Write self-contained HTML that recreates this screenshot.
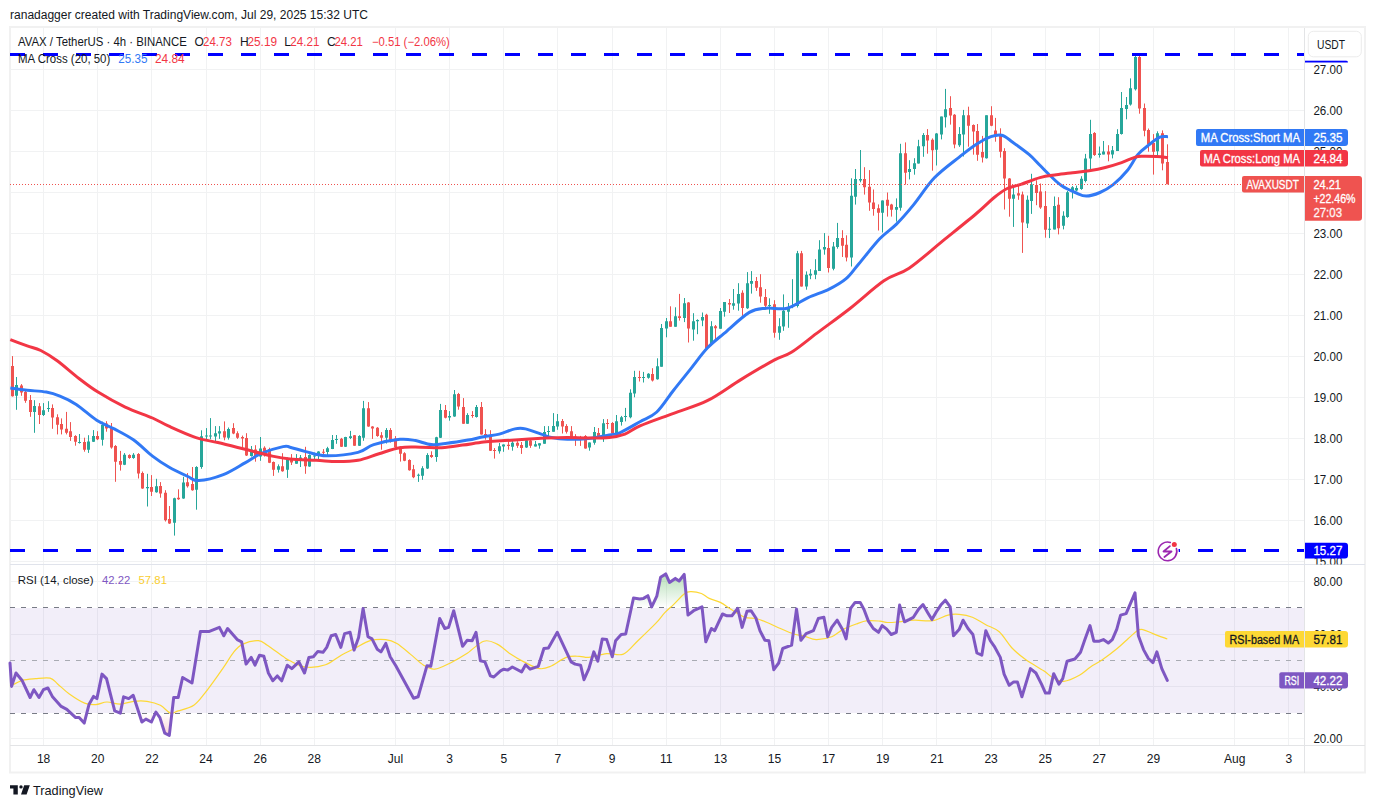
<!DOCTYPE html><html><head><meta charset="utf-8"><style>html,body{margin:0;padding:0;background:#fff;overflow:hidden}svg{display:block}text{font-family:"Liberation Sans",sans-serif;}</style></head><body>
<svg width="1376" height="808" viewBox="0 0 1376 808">
<defs>
<linearGradient id="gup" x1="0" y1="570" x2="0" y2="607.4" gradientUnits="userSpaceOnUse"><stop offset="0" stop-color="#4caf50" stop-opacity="0.45"/><stop offset="1" stop-color="#4caf50" stop-opacity="0"/></linearGradient>
<linearGradient id="gdn" x1="0" y1="713" x2="0" y2="738" gradientUnits="userSpaceOnUse"><stop offset="0" stop-color="#f23645" stop-opacity="0"/><stop offset="1" stop-color="#f23645" stop-opacity="0.25"/></linearGradient>
<clipPath id="cup"><rect x="10" y="565" width="1294" height="42.4"/></clipPath>
<clipPath id="cmain"><rect x="1305" y="28" width="60" height="536.5"/></clipPath>
<clipPath id="crsi"><rect x="1305" y="565" width="60" height="180"/></clipPath>
<clipPath id="cdn"><rect x="10" y="713" width="1294" height="32"/></clipPath>
</defs>
<rect width="1376" height="808" fill="#fff"/>
<text x="10" y="18.8" font-size="12.3" fill="#131722" textLength="358" lengthAdjust="spacingAndGlyphs">ranadagger created with TradingView.com, Jul 29, 2025 15:32 UTC</text>
<rect x="10" y="27" width="1355" height="745.5" fill="none" stroke="#f1f1f1" stroke-width="2"/>
<path d="M43.5 28V745 M97.5 28V745 M151.5 28V745 M206.5 28V745 M260.5 28V745 M314.5 28V745 M395.5 28V745 M449.5 28V745 M503.5 28V745 M557.5 28V745 M612.5 28V745 M666.5 28V745 M720.5 28V745 M774.5 28V745 M828.5 28V745 M882.5 28V745 M936.5 28V745 M991.5 28V745 M1045.5 28V745 M1099.5 28V745 M1153.5 28V745 M1234.5 28V745 M1288.5 28V745 M10 561.5H1304 M10 520.5H1304 M10 479.5H1304 M10 438.5H1304 M10 397.5H1304 M10 356.5H1304 M10 315.5H1304 M10 274.5H1304 M10 233.5H1304 M10 192.5H1304 M10 151.5H1304 M10 110.5H1304 M10 69.5H1304 M10 581.5H1304 M10 634.5H1304 M10 686.5H1304 M10 738.5H1304" stroke="#f1f2f3" stroke-width="1" fill="none"/>
<rect x="10" y="608" width="1294" height="105" fill="#7e57c2" fill-opacity="0.1"/>
<path d="M10 607.5H1304" stroke="#787b86" stroke-width="1" stroke-dasharray="5 6" fill="none"/>
<path d="M10 660.5H1304" stroke="#a9abb3" stroke-width="1" stroke-dasharray="5 6" fill="none"/>
<path d="M10 713.5H1304" stroke="#787b86" stroke-width="1" stroke-dasharray="5 6" fill="none"/>
<path d="M1304.5 28V773" stroke="#e3e4e6" stroke-width="1"/>
<path d="M10 564.5H1365" stroke="#e0e3eb" stroke-width="1"/>
<path d="M10 745.5H1365" stroke="#e3e4e6" stroke-width="1"/>
<path d="M16.5 377.0V409.8 M34.5 400.2V432.8 M43.5 403.1V416.0 M48.5 401.2V411.9 M79.5 434.0V443.6 M88.5 435.2V452.9 M93.5 430.1V442.0 M102.5 421.7V445.6 M124.5 453.1V465.1 M133.5 453.1V458.8 M147.5 473.8V506.5 M156.5 478.8V492.7 M174.5 497.7V535.6 M183.5 476.8V498.8 M196.5 466.2V509.7 M201.5 430.3V468.8 M206.5 428.1V439.2 M210.5 418.1V439.2 M215.5 426.1V442.3 M219.5 426.1V438.9 M228.5 427.5V439.6 M251.5 446.0V456.6 M260.5 437.0V460.8 M278.5 464.4V472.6 M287.5 457.4V477.9 M296.5 454.1V463.8 M300.5 455.0V467.0 M309.5 454.4V466.8 M314.5 452.6V459.7 M318.5 451.2V459.1 M327.5 446.8V456.8 M332.5 435.0V449.1 M336.5 435.0V443.8 M345.5 436.8V447.0 M350.5 430.9V439.1 M359.5 435.2V446.0 M363.5 400.9V440.8 M386.5 428.1V443.5 M418.5 473.6V481.9 M422.5 466.2V479.8 M427.5 453.2V469.0 M436.5 436.8V461.8 M440.5 403.9V438.0 M449.5 411.1V420.7 M454.5 390.0V416.8 M467.5 413.2V423.9 M476.5 405.0V417.6 M499.5 443.0V453.6 M503.5 444.4V451.8 M512.5 439.9V450.7 M526.5 438.6V447.9 M535.5 441.0V446.5 M539.5 443.3V448.7 M544.5 426.1V443.7 M548.5 426.1V438.6 M553.5 413.1V431.7 M557.5 414.0V429.8 M589.5 442.4V450.7 M594.5 427.0V444.7 M603.5 419.1V441.9 M616.5 415.0V434.0 M621.5 415.9V425.6 M625.5 407.9V421.4 M630.5 389.3V418.3 M634.5 370.8V397.3 M643.5 371.9V382.5 M648.5 373.2V378.7 M657.5 358.3V379.7 M661.5 324.0V366.7 M666.5 318.0V337.3 M675.5 307.3V326.8 M684.5 298.0V322.1 M693.5 313.2V340.7 M697.5 319.3V334.2 M702.5 312.5V326.2 M711.5 321.2V345.4 M720.5 308.0V328.7 M724.5 302.1V316.7 M733.5 289.0V309.7 M738.5 283.2V310.7 M747.5 272.1V308.9 M751.5 271.1V293.6 M769.5 298.3V313.8 M779.5 318.2V339.8 M783.5 294.4V330.8 M788.5 303.0V327.8 M792.5 279.2V308.2 M797.5 250.9V307.5 M806.5 271.4V289.7 M810.5 269.2V279.2 M815.5 259.2V279.2 M819.5 240.2V271.0 M824.5 233.1V254.7 M833.5 242.0V270.3 M837.5 222.9V248.7 M851.5 178.3V266.5 M855.5 169.0V204.6 M860.5 150.0V182.3 M882.5 200.4V232.5 M896.5 198.4V221.6 M900.5 143.8V210.7 M909.5 160.2V179.4 M914.5 158.2V174.7 M918.5 139.8V163.6 M923.5 133.1V156.8 M936.5 133.1V165.5 M941.5 116.6V139.4 M945.5 88.9V127.5 M959.5 127.1V146.9 M963.5 109.9V156.5 M986.5 115.3V158.6 M1013.5 186.8V226.9 M1027.5 195.5V228.0 M1031.5 173.8V213.9 M1049.5 217.0V238.1 M1054.5 196.5V229.4 M1063.5 211.3V229.4 M1067.5 191.0V217.8 M1072.5 186.1V198.5 M1076.5 185.6V191.0 M1081.5 176.2V189.8 M1085.5 153.9V182.4 M1090.5 119.8V170.0 M1099.5 146.5V157.6 M1103.5 141.0V154.4 M1112.5 146.0V158.4 M1117.5 129.2V150.9 M1121.5 92.0V134.6 M1126.5 97.0V119.3 M1130.5 78.4V105.6 M1135.5 55.2V90.5 M1157.5 131.3V157.3" stroke="#26a69a" stroke-width="1" fill="none"/>
<path d="M15 385.1h3v10.7h-3z M33 406.0h3v5.9h-3z M42 410.3h3v4.8h-3z M47 407.9h3v1.0h-3z M78 442.0h3v1.0h-3z M87 441.4h3v8.3h-3z M92 436.1h3v5.6h-3z M101 425.0h3v14.7h-3z M123 454.8h3v10.0h-3z M132 454.8h3v3.3h-3z M146 487.1h3v1.1h-3z M155 486.3h3v5.9h-3z M173 498.2h3v24.5h-3z M182 482.6h3v15.9h-3z M195 467.0h3v22.7h-3z M200 436.3h3v30.7h-3z M205 435.6h3v1.0h-3z M209 435.6h3v1.0h-3z M214 433.2h3v3.4h-3z M218 431.3h3v2.2h-3z M227 428.9h3v8.9h-3z M250 449.4h3v6.6h-3z M259 448.4h3v8.2h-3z M277 466.2h3v3.5h-3z M286 459.1h3v10.6h-3z M295 459.5h3v4.3h-3z M299 457.4h3v3.5h-3z M308 455.0h3v11.5h-3z M313 455.6h3v1.0h-3z M317 451.5h3v4.4h-3z M326 448.2h3v3.9h-3z M331 439.9h3v9.0h-3z M335 439.1h3v1.0h-3z M344 437.1h3v9.7h-3z M349 436.2h3v1.7h-3z M358 436.1h3v9.6h-3z M362 408.3h3v29.4h-3z M385 429.9h3v7.8h-3z M417 474.8h3v1.0h-3z M421 468.3h3v7.4h-3z M426 455.0h3v13.6h-3z M435 437.3h3v19.6h-3z M439 410.1h3v27.6h-3z M448 416.0h3v1.4h-3z M453 394.3h3v22.2h-3z M466 415.0h3v8.7h-3z M475 406.9h3v10.2h-3z M498 446.2h3v5.0h-3z M502 444.4h3v2.1h-3z M511 442.8h3v4.0h-3z M525 440.2h3v7.4h-3z M534 444.2h3v2.3h-3z M538 443.3h3v2.3h-3z M543 432.1h3v11.6h-3z M547 431.0h3v1.0h-3z M552 426.1h3v5.6h-3z M556 421.2h3v5.4h-3z M588 442.4h3v5.1h-3z M593 432.1h3v10.7h-3z M602 423.3h3v14.4h-3z M615 421.2h3v12.8h-3z M620 417.3h3v4.6h-3z M624 415.9h3v1.0h-3z M629 392.7h3v24.5h-3z M633 376.9h3v16.7h-3z M642 376.9h3v1.0h-3z M647 373.7h3v4.1h-3z M656 366.3h3v13.0h-3z M660 328.1h3v38.6h-3z M665 321.2h3v7.4h-3z M674 316.2h3v10.6h-3z M683 303.2h3v14.8h-3z M692 321.2h3v8.4h-3z M696 319.9h3v1.3h-3z M701 316.9h3v3.7h-3z M710 326.2h3v17.7h-3z M719 311.0h3v17.7h-3z M723 302.1h3v9.6h-3z M732 303.3h3v2.5h-3z M737 294.0h3v9.5h-3z M746 283.2h3v25.0h-3z M750 281.0h3v2.7h-3z M768 305.1h3v1.0h-3z M778 326.2h3v6.6h-3z M782 310.7h3v15.9h-3z M787 307.6h3v4.1h-3z M791 306.0h3v1.1h-3z M796 253.2h3v52.8h-3z M805 274.8h3v11.8h-3z M809 273.7h3v1.7h-3z M814 270.3h3v4.5h-3z M818 249.6h3v21.4h-3z M823 246.9h3v2.7h-3z M832 246.5h3v22.3h-3z M836 238.0h3v8.9h-3z M850 195.7h3v61.9h-3z M854 179.0h3v17.8h-3z M859 179.0h3v1.5h-3z M881 200.4h3v12.3h-3z M895 207.1h3v2.6h-3z M899 153.3h3v54.4h-3z M908 169.1h3v3.0h-3z M913 163.2h3v5.9h-3z M917 146.3h3v17.3h-3z M922 135.0h3v11.3h-3z M935 133.5h3v16.2h-3z M940 116.6h3v17.9h-3z M944 109.3h3v7.9h-3z M958 133.9h3v11.4h-3z M962 115.3h3v19.1h-3z M985 115.3h3v42.9h-3z M1012 194.4h3v4.3h-3z M1026 199.8h3v23.8h-3z M1030 184.6h3v16.3h-3z M1048 228.7h3v1.0h-3z M1053 205.9h3v23.5h-3z M1062 215.8h3v9.9h-3z M1066 192.3h3v24.7h-3z M1071 187.3h3v4.2h-3z M1075 188.1h3v2.4h-3z M1080 178.7h3v10.4h-3z M1084 158.4h3v22.7h-3z M1089 134.1h3v24.3h-3z M1098 153.4h3v1.7h-3z M1102 151.4h3v3.0h-3z M1111 150.2h3v4.2h-3z M1116 134.1h3v16.8h-3z M1120 108.1h3v26.0h-3z M1125 104.9h3v4.0h-3z M1129 88.3h3v16.1h-3z M1134 57.1h3v32.1h-3z M1156 133.2h3v18.0h-3z" fill="#26a69a"/>
<path d="M12.5 356.1V396.6 M21.5 384.1V395.8 M25.5 391.0V402.8 M30.5 395.0V416.8 M39.5 403.1V424.0 M52.5 404.4V428.8 M57.5 414.3V434.4 M61.5 418.4V434.4 M66.5 411.9V434.4 M70.5 422.1V440.9 M75.5 435.2V445.7 M84.5 437.7V451.7 M97.5 431.2V440.1 M106.5 421.2V431.7 M111.5 423.0V448.7 M115.5 445.1V481.8 M120.5 450.9V470.6 M129.5 454.3V458.8 M138.5 453.1V478.5 M142.5 471.5V488.8 M151.5 475.1V496.0 M160.5 482.1V497.7 M165.5 490.2V521.5 M169.5 506.0V523.9 M178.5 489.3V499.8 M187.5 473.1V487.6 M192.5 467.0V490.7 M224.5 421.4V440.3 M233.5 423.2V434.2 M237.5 431.3V438.9 M242.5 435.6V447.7 M246.5 433.2V456.0 M255.5 445.2V461.7 M264.5 446.3V456.6 M269.5 447.7V463.1 M273.5 461.5V475.9 M282.5 453.2V471.7 M291.5 454.1V465.0 M305.5 446.8V473.8 M323.5 449.1V454.8 M341.5 437.9V447.0 M354.5 435.0V445.8 M368.5 402.1V426.8 M372.5 426.2V438.9 M377.5 427.1V436.8 M381.5 432.1V449.7 M390.5 428.1V442.6 M395.5 436.1V447.9 M400.5 446.3V461.6 M404.5 452.2V461.2 M409.5 459.3V470.7 M413.5 464.9V478.2 M431.5 451.3V457.9 M445.5 405.0V418.4 M458.5 392.9V409.7 M463.5 398.1V423.9 M472.5 411.1V417.8 M481.5 402.0V434.6 M485.5 429.2V439.7 M490.5 430.2V451.0 M494.5 448.1V458.6 M508.5 441.2V449.7 M517.5 441.2V447.9 M521.5 442.0V453.9 M530.5 439.7V447.9 M562.5 419.0V433.5 M566.5 424.2V433.5 M571.5 426.1V439.6 M575.5 434.2V445.9 M580.5 435.9V445.9 M585.5 435.1V448.7 M598.5 428.0V438.6 M607.5 419.1V428.9 M612.5 422.1V433.5 M639.5 370.8V381.5 M652.5 368.2V381.5 M670.5 306.3V326.8 M679.5 293.9V320.6 M688.5 302.1V342.5 M706.5 313.8V348.9 M715.5 325.0V339.8 M729.5 299.0V313.0 M742.5 290.3V315.9 M756.5 277.0V290.9 M760.5 274.2V302.7 M765.5 289.0V309.5 M774.5 300.2V337.7 M801.5 250.9V286.6 M828.5 235.8V272.5 M842.5 230.2V257.0 M846.5 235.3V261.4 M864.5 167.2V194.6 M869.5 170.1V210.8 M873.5 189.5V215.7 M878.5 204.4V230.5 M887.5 192.5V216.6 M891.5 203.8V216.6 M905.5 142.4V184.6 M927.5 129.1V153.7 M932.5 138.4V170.7 M950.5 96.2V124.6 M954.5 114.1V148.3 M968.5 106.7V146.7 M973.5 124.4V154.7 M977.5 124.0V160.8 M982.5 135.9V162.5 M991.5 106.2V126.2 M995.5 117.9V141.7 M1000.5 128.3V157.6 M1004.5 148.2V209.5 M1009.5 178.1V216.7 M1018.5 185.7V199.8 M1022.5 191.6V252.9 M1036.5 180.3V205.2 M1040.5 183.5V208.9 M1045.5 191.1V237.7 M1058.5 197.2V234.4 M1094.5 132.1V155.9 M1108.5 145.2V161.3 M1139.5 54.3V113.7 M1144.5 103.5V136.3 M1148.5 128.5V151.7 M1153.5 134.1V174.6 M1162.5 130.4V170.3 M1167.5 144.3V184.2" stroke="#ef5350" stroke-width="1" fill="none"/>
<path d="M11 366.1h3v30.2h-3z M20 385.4h3v7.2h-3z M24 392.1h3v8.6h-3z M29 399.9h3v12.0h-3z M38 406.3h3v8.8h-3z M51 407.9h3v9.7h-3z M56 417.2h3v7.6h-3z M60 424.0h3v5.6h-3z M65 428.8h3v4.0h-3z M69 431.2h3v5.7h-3z M74 436.1h3v5.6h-3z M83 442.0h3v7.7h-3z M96 436.1h3v3.2h-3z M105 423.4h3v5.0h-3z M110 427.5h3v20.1h-3z M114 445.9h3v15.9h-3z M119 460.9h3v3.9h-3z M128 455.1h3v3.0h-3z M137 453.9h3v19.6h-3z M141 473.1h3v15.4h-3z M150 487.1h3v4.7h-3z M159 486.0h3v7.5h-3z M164 492.7h3v27.5h-3z M168 519.0h3v4.5h-3z M177 497.7h3v1.6h-3z M186 482.3h3v3.9h-3z M191 484.0h3v6.2h-3z M223 431.3h3v6.2h-3z M232 428.1h3v5.4h-3z M236 433.2h3v4.6h-3z M241 437.0h3v1.5h-3z M245 438.0h3v17.6h-3z M254 449.4h3v7.6h-3z M263 447.7h3v5.7h-3z M268 449.1h3v13.6h-3z M272 462.1h3v7.6h-3z M281 466.2h3v5.0h-3z M290 458.5h3v4.1h-3z M304 457.1h3v9.1h-3z M322 451.7h3v1.0h-3z M340 438.8h3v8.0h-3z M353 435.2h3v10.6h-3z M367 408.3h3v18.2h-3z M371 426.5h3v2.1h-3z M376 427.8h3v8.3h-3z M380 435.2h3v2.5h-3z M389 429.9h3v11.1h-3z M394 438.5h3v8.7h-3z M399 446.7h3v7.1h-3z M403 453.2h3v7.6h-3z M408 460.0h3v10.2h-3z M412 469.2h3v8.1h-3z M430 455.0h3v1.9h-3z M444 410.0h3v7.8h-3z M457 393.9h3v12.7h-3z M462 407.1h3v16.6h-3z M471 415.0h3v1.0h-3z M480 407.1h3v27.3h-3z M484 433.9h3v1.0h-3z M489 434.9h3v15.8h-3z M493 450.0h3v1.0h-3z M507 444.7h3v1.3h-3z M516 442.8h3v3.0h-3z M520 444.9h3v3.0h-3z M529 440.5h3v5.3h-3z M561 421.0h3v5.6h-3z M565 426.1h3v5.6h-3z M570 431.2h3v6.0h-3z M574 436.6h3v2.0h-3z M579 437.7h3v1.0h-3z M584 435.9h3v12.5h-3z M597 433.1h3v5.5h-3z M606 422.9h3v1.0h-3z M611 422.9h3v10.6h-3z M638 376.9h3v1.0h-3z M651 374.1h3v6.5h-3z M669 321.2h3v5.6h-3z M678 316.2h3v1.8h-3z M687 302.6h3v26.0h-3z M705 314.7h3v33.4h-3z M714 326.2h3v2.1h-3z M728 303.0h3v1.5h-3z M741 292.8h3v15.2h-3z M755 281.0h3v6.8h-3z M759 287.2h3v9.3h-3z M764 297.1h3v8.7h-3z M773 304.3h3v28.5h-3z M800 253.2h3v33.4h-3z M827 248.0h3v20.1h-3z M841 238.0h3v7.8h-3z M845 244.7h3v12.9h-3z M863 179.0h3v8.2h-3z M868 186.8h3v15.6h-3z M872 202.4h3v6.7h-3z M877 208.3h3v4.4h-3z M886 199.8h3v5.9h-3z M890 204.4h3v5.3h-3z M904 153.3h3v19.4h-3z M926 135.0h3v5.4h-3z M931 139.8h3v10.5h-3z M949 108.1h3v7.5h-3z M953 114.7h3v29.7h-3z M967 115.3h3v10.4h-3z M972 125.1h3v6.5h-3z M976 130.9h3v23.8h-3z M981 152.1h3v5.5h-3z M990 115.3h3v10.4h-3z M994 130.5h3v6.0h-3z M999 135.2h3v16.5h-3z M1003 151.1h3v27.5h-3z M1008 178.6h3v20.1h-3z M1017 193.3h3v2.2h-3z M1021 194.4h3v28.1h-3z M1035 185.1h3v7.8h-3z M1039 191.6h3v15.8h-3z M1044 205.9h3v23.8h-3z M1057 204.7h3v23.5h-3z M1093 132.9h3v22.2h-3z M1107 151.4h3v3.0h-3z M1138 57.1h3v51.4h-3z M1143 108.1h3v22.7h-3z M1147 130.0h3v14.3h-3z M1152 143.0h3v8.7h-3z M1161 133.2h3v30.2h-3z M1166 162.0h3v22.2h-3z" fill="#ef5350"/>
<path d="M10.3 388.0C13.1 388.4 21.2 389.5 27.2 390.2C33.2 390.9 40.8 391.1 46.3 392.1C51.8 393.1 54.9 394.1 59.9 396.2C64.9 398.2 70.1 400.4 76.2 404.4C82.3 408.4 90.4 416.1 96.7 420.2C103.0 424.3 108.2 425.6 114.3 428.9C120.4 432.2 127.0 435.3 133.4 439.8C139.8 444.3 146.6 451.6 152.5 456.1C158.4 460.6 162.9 463.6 168.8 467.0C174.7 470.4 182.9 474.2 187.9 476.5C192.9 478.8 192.8 480.9 198.7 480.6C204.6 480.3 215.6 477.6 223.3 474.6C231.0 471.7 238.7 466.4 245.0 462.9C251.3 459.4 255.0 456.1 261.4 453.4C267.8 450.7 278.3 447.6 283.1 446.6C287.9 445.6 286.2 446.4 290.0 447.2C293.8 448.0 299.6 450.2 305.7 451.6C311.8 453.0 317.9 455.7 326.6 455.8C335.3 455.9 350.1 454.3 358.0 452.4C365.9 450.5 366.7 446.8 373.7 444.6C380.7 442.4 392.9 440.0 399.9 439.3C406.9 438.6 410.4 439.7 415.6 440.6C420.8 441.5 426.1 444.2 431.3 444.6C436.5 445.1 440.9 444.1 447.0 443.3C453.1 442.6 461.8 441.2 467.9 440.1C474.0 439.0 478.4 437.7 483.6 436.7C488.8 435.7 494.1 435.4 499.3 434.1C504.5 432.8 510.6 429.8 515.0 428.9C519.4 428.0 521.1 428.0 525.5 428.9C529.9 429.8 536.9 432.7 541.2 434.1C545.6 435.5 547.2 436.6 551.6 437.5C556.0 438.4 561.2 439.1 567.3 439.3C573.4 439.5 581.3 439.2 588.3 438.5C595.3 437.8 604.0 435.8 609.2 434.9C614.4 433.9 614.6 435.0 619.7 432.8C624.8 430.6 633.8 425.2 640.0 421.7C646.2 418.2 651.2 417.2 656.8 412.0C662.4 406.8 668.0 397.3 673.6 390.2C679.2 383.1 684.9 376.1 690.5 369.1C696.1 362.1 701.7 354.1 707.3 348.1C712.9 342.2 717.1 339.3 724.1 333.4C731.1 327.4 742.3 316.6 749.3 312.4C756.3 308.2 759.9 308.9 766.2 308.2C772.5 307.5 780.2 310.0 787.2 308.2C794.2 306.4 801.2 300.8 808.2 297.6C815.2 294.4 822.9 292.4 829.2 289.2C835.5 286.0 841.2 282.9 846.1 278.7C851.0 274.5 853.1 270.6 858.7 264.0C864.3 257.4 873.4 245.5 879.7 238.8C886.0 232.2 890.9 229.7 896.5 224.1C902.1 218.5 907.0 212.8 913.3 205.1C919.6 197.4 926.7 185.9 934.4 177.8C942.1 169.8 952.6 162.4 959.6 156.8C966.6 151.2 971.2 147.5 976.4 144.2C981.6 140.8 986.7 138.2 990.9 136.7C995.1 135.2 998.2 134.4 1001.8 135.3C1005.4 136.2 1008.2 139.0 1012.7 142.2C1017.2 145.4 1024.5 150.6 1029.0 154.4C1033.5 158.2 1036.3 161.7 1039.9 165.3C1043.5 168.9 1047.2 172.8 1050.8 176.2C1054.4 179.6 1057.6 183.0 1061.7 185.7C1065.8 188.4 1071.2 190.8 1075.3 192.5C1079.4 194.2 1082.1 196.1 1086.2 196.1C1090.3 196.1 1095.4 194.4 1099.9 192.5C1104.5 190.6 1109.0 188.0 1113.5 184.4C1118.0 180.8 1123.0 175.8 1127.1 170.8C1131.2 165.8 1134.4 158.7 1138.0 154.4C1141.6 150.1 1145.3 147.8 1148.9 144.9C1152.5 142.0 1156.6 138.6 1159.8 137.2C1163.0 135.8 1166.6 136.8 1168.0 136.7" fill="none" stroke="#3179f5" stroke-width="3" stroke-linejoin="round" stroke-linecap="butt"/>
<path d="M10.3 339.6C13.1 340.7 22.1 344.1 27.2 345.9C32.3 347.7 35.8 348.0 40.8 350.5C45.8 353.0 50.8 356.1 57.2 360.8C63.6 365.5 72.2 373.3 79.0 378.5C85.8 383.7 90.3 387.3 98.0 392.1C105.7 396.9 116.1 402.8 125.2 407.1C134.3 411.4 145.2 414.8 152.5 418.0C159.8 421.2 161.6 422.9 168.8 426.2C176.1 429.5 187.8 434.9 196.0 437.6C204.2 440.3 209.6 440.6 217.8 442.5C226.0 444.4 235.9 447.0 245.0 449.3C254.1 451.6 264.8 454.5 272.3 456.1C279.8 457.7 282.7 458.3 290.0 459.0C297.3 459.7 308.3 459.9 316.2 460.3C324.1 460.7 330.1 461.6 337.1 461.6C344.1 461.6 351.0 461.6 358.0 460.3C365.0 459.0 372.0 455.8 379.0 453.7C386.0 451.6 392.9 448.8 399.9 447.7C406.9 446.6 413.8 447.2 420.8 447.2C427.8 447.2 434.7 448.0 441.7 447.7C448.7 447.4 455.7 446.1 462.7 445.1C469.7 444.2 476.6 442.8 483.6 442.0C490.6 441.2 497.5 441.1 504.5 440.6C511.5 440.2 518.5 439.7 525.5 439.3C532.5 438.9 539.4 438.3 546.4 438.0C553.4 437.7 560.3 437.5 567.3 437.5C574.3 437.5 581.3 438.0 588.3 438.0C595.3 438.0 603.1 438.1 609.2 437.5C615.3 436.9 619.8 436.0 624.9 434.1C630.0 432.2 631.9 429.4 640.0 425.9C648.1 422.4 662.4 417.5 673.6 413.3C684.8 409.1 696.1 406.3 707.3 400.7C718.5 395.1 729.7 386.4 740.9 379.6C752.1 372.8 766.2 364.4 774.6 359.9C783.0 355.3 784.4 356.7 791.4 352.3C798.4 347.9 806.8 340.8 816.6 333.4C826.4 326.0 839.1 317.0 850.3 308.2C861.5 299.4 874.1 287.5 883.9 280.8C893.7 274.1 899.3 274.8 909.1 268.2C918.9 261.6 931.6 250.0 942.8 240.9C954.0 231.8 967.9 220.7 976.4 213.5C984.9 206.3 988.5 202.2 993.6 198.0C998.7 193.8 1002.7 190.8 1007.2 188.5C1011.8 186.2 1015.4 186.2 1020.9 184.4C1026.3 182.6 1034.0 179.2 1039.9 177.6C1045.8 176.0 1050.8 175.6 1056.3 174.8C1061.8 174.0 1067.1 173.4 1072.6 172.7C1078.0 172.0 1083.5 171.7 1089.0 170.8C1094.5 169.9 1099.9 168.9 1105.3 167.5C1110.7 166.1 1116.6 164.3 1121.6 162.6C1126.6 160.9 1131.7 158.1 1135.3 157.1C1138.9 156.1 1139.8 156.4 1143.4 156.3C1147.0 156.2 1152.9 156.4 1157.0 156.6C1161.1 156.8 1166.2 157.5 1168.0 157.7" fill="none" stroke="#f23645" stroke-width="3" stroke-linejoin="round" stroke-linecap="butt"/>
<path d="M10 54.5H1304M10 550.5H1304" stroke="#0000ff" stroke-width="3" stroke-dasharray="15 18" fill="none"/>
<path d="M10 184.5H1242" stroke="#ef5350" stroke-width="1" stroke-dasharray="1 2" fill="none"/>
<polygon points="10.0,663.0 11.6,686.4 16.0,673.0 22.3,680.8 30.1,697.5 33.9,689.7 39.0,697.5 43.4,689.7 47.9,688.0 52.3,696.4 61.2,706.4 66.8,709.3 75.7,717.6 79.1,717.6 84.2,723.1 89.1,704.2 93.5,696.4 96.9,698.6 102.0,674.1 106.5,678.6 114.7,710.9 120.3,713.1 123.6,696.8 128.7,698.6 133.2,695.3 141.9,722.0 145.9,719.1 151.4,722.0 155.9,712.0 159.9,717.6 164.8,733.2 169.3,735.4 173.7,697.5 178.2,697.5 182.6,677.5 192.0,683.0 200.4,631.4 209.4,631.4 219.4,627.4 223.8,635.8 227.6,628.5 237.2,639.6 241.6,641.8 246.1,664.1 251.2,657.4 255.0,665.2 259.5,655.2 263.9,656.3 268.4,673.0 272.8,680.8 277.3,675.9 281.7,680.8 287.3,665.2 291.8,668.6 298.9,661.9 304.5,673.0 308.9,657.4 313.4,656.8 317.8,651.4 323.0,652.3 326.7,647.4 331.2,635.8 335.7,634.5 340.8,647.4 344.6,633.6 350.1,632.3 354.1,650.1 358.6,637.4 363.1,608.4 368.0,636.7 372.0,638.9 377.3,649.2 380.9,651.9 385.8,643.4 390.2,656.8 395.8,665.7 413.6,698.2 418.1,696.8 427.0,665.7 430.8,666.3 439.7,618.5 444.8,628.5 448.6,627.4 453.7,610.7 462.6,646.3 467.1,640.3 472.2,640.7 476.0,632.3 480.4,660.8 484.9,661.9 490.4,675.9 493.8,677.0 500.5,670.8 503.8,669.2 507.8,670.1 512.3,667.0 521.6,671.9 525.6,664.8 530.1,669.2 538.3,666.3 543.9,648.5 548.4,647.9 557.3,632.3 562.8,644.1 571.1,661.9 575.1,664.1 580.6,665.2 584.0,679.7 588.9,668.6 593.8,651.9 597.8,661.2 602.3,638.9 606.7,639.6 612.3,656.8 615.6,640.7 621.2,634.5 625.7,634.0 633.5,598.0 639.7,598.9 643.5,598.4 647.9,595.7 651.7,606.9 656.8,596.2 660.6,577.2 665.7,573.9 669.5,582.4 675.3,578.4 679.1,581.0 684.2,574.4 688.0,615.1 693.6,610.7 702.0,606.9 705.8,641.8 711.4,628.5 714.7,630.7 722.5,614.0 727.0,615.8 731.9,615.8 737.7,608.4 742.1,627.4 747.0,611.3 751.0,610.7 755.9,618.0 760.0,630.7 764.9,640.3 768.9,640.7 773.8,669.7 778.7,663.0 782.7,648.5 791.6,645.2 796.5,609.1 800.9,640.3 806.1,633.6 813.4,630.7 818.3,618.5 823.9,617.3 827.7,636.7 831.7,627.4 837.2,620.2 842.8,630.0 846.1,638.9 850.6,608.4 855.1,602.4 860.2,602.4 864.0,609.5 868.4,621.1 873.3,628.5 878.5,632.3 882.2,625.6 886.7,629.1 891.2,634.5 896.3,632.3 899.6,605.1 904.5,621.8 909.0,619.6 913.4,617.3 918.6,609.1 923.0,604.6 927.9,612.9 931.9,619.6 936.4,611.8 940.8,605.1 945.3,600.2 950.2,606.9 953.5,635.8 959.1,629.6 963.1,620.2 968.0,628.5 972.9,634.5 976.9,653.0 981.8,655.2 985.8,630.7 990.3,640.7 994.3,646.3 1000.3,657.4 1004.1,674.1 1009.2,685.3 1013.7,681.9 1017.4,681.9 1021.9,696.8 1030.4,668.6 1035.9,673.0 1041.5,684.2 1045.5,693.1 1049.3,693.1 1053.7,673.7 1058.9,684.2 1062.7,678.6 1067.1,661.2 1074.9,659.0 1080.5,652.3 1084.9,639.6 1090.0,625.6 1093.8,641.2 1099.4,641.2 1103.4,639.6 1108.3,643.0 1112.3,639.6 1116.8,629.1 1120.6,615.1 1126.1,613.6 1135.0,592.8 1138.4,635.8 1143.5,649.6 1148.4,658.5 1152.9,662.6 1156.9,651.9 1161.8,668.6 1167.3,680.4 1167.3,607.4 10,607.4" fill="url(#gup)" clip-path="url(#cup)"/>
<polygon points="10.0,663.0 11.6,686.4 16.0,673.0 22.3,680.8 30.1,697.5 33.9,689.7 39.0,697.5 43.4,689.7 47.9,688.0 52.3,696.4 61.2,706.4 66.8,709.3 75.7,717.6 79.1,717.6 84.2,723.1 89.1,704.2 93.5,696.4 96.9,698.6 102.0,674.1 106.5,678.6 114.7,710.9 120.3,713.1 123.6,696.8 128.7,698.6 133.2,695.3 141.9,722.0 145.9,719.1 151.4,722.0 155.9,712.0 159.9,717.6 164.8,733.2 169.3,735.4 173.7,697.5 178.2,697.5 182.6,677.5 192.0,683.0 200.4,631.4 209.4,631.4 219.4,627.4 223.8,635.8 227.6,628.5 237.2,639.6 241.6,641.8 246.1,664.1 251.2,657.4 255.0,665.2 259.5,655.2 263.9,656.3 268.4,673.0 272.8,680.8 277.3,675.9 281.7,680.8 287.3,665.2 291.8,668.6 298.9,661.9 304.5,673.0 308.9,657.4 313.4,656.8 317.8,651.4 323.0,652.3 326.7,647.4 331.2,635.8 335.7,634.5 340.8,647.4 344.6,633.6 350.1,632.3 354.1,650.1 358.6,637.4 363.1,608.4 368.0,636.7 372.0,638.9 377.3,649.2 380.9,651.9 385.8,643.4 390.2,656.8 395.8,665.7 413.6,698.2 418.1,696.8 427.0,665.7 430.8,666.3 439.7,618.5 444.8,628.5 448.6,627.4 453.7,610.7 462.6,646.3 467.1,640.3 472.2,640.7 476.0,632.3 480.4,660.8 484.9,661.9 490.4,675.9 493.8,677.0 500.5,670.8 503.8,669.2 507.8,670.1 512.3,667.0 521.6,671.9 525.6,664.8 530.1,669.2 538.3,666.3 543.9,648.5 548.4,647.9 557.3,632.3 562.8,644.1 571.1,661.9 575.1,664.1 580.6,665.2 584.0,679.7 588.9,668.6 593.8,651.9 597.8,661.2 602.3,638.9 606.7,639.6 612.3,656.8 615.6,640.7 621.2,634.5 625.7,634.0 633.5,598.0 639.7,598.9 643.5,598.4 647.9,595.7 651.7,606.9 656.8,596.2 660.6,577.2 665.7,573.9 669.5,582.4 675.3,578.4 679.1,581.0 684.2,574.4 688.0,615.1 693.6,610.7 702.0,606.9 705.8,641.8 711.4,628.5 714.7,630.7 722.5,614.0 727.0,615.8 731.9,615.8 737.7,608.4 742.1,627.4 747.0,611.3 751.0,610.7 755.9,618.0 760.0,630.7 764.9,640.3 768.9,640.7 773.8,669.7 778.7,663.0 782.7,648.5 791.6,645.2 796.5,609.1 800.9,640.3 806.1,633.6 813.4,630.7 818.3,618.5 823.9,617.3 827.7,636.7 831.7,627.4 837.2,620.2 842.8,630.0 846.1,638.9 850.6,608.4 855.1,602.4 860.2,602.4 864.0,609.5 868.4,621.1 873.3,628.5 878.5,632.3 882.2,625.6 886.7,629.1 891.2,634.5 896.3,632.3 899.6,605.1 904.5,621.8 909.0,619.6 913.4,617.3 918.6,609.1 923.0,604.6 927.9,612.9 931.9,619.6 936.4,611.8 940.8,605.1 945.3,600.2 950.2,606.9 953.5,635.8 959.1,629.6 963.1,620.2 968.0,628.5 972.9,634.5 976.9,653.0 981.8,655.2 985.8,630.7 990.3,640.7 994.3,646.3 1000.3,657.4 1004.1,674.1 1009.2,685.3 1013.7,681.9 1017.4,681.9 1021.9,696.8 1030.4,668.6 1035.9,673.0 1041.5,684.2 1045.5,693.1 1049.3,693.1 1053.7,673.7 1058.9,684.2 1062.7,678.6 1067.1,661.2 1074.9,659.0 1080.5,652.3 1084.9,639.6 1090.0,625.6 1093.8,641.2 1099.4,641.2 1103.4,639.6 1108.3,643.0 1112.3,639.6 1116.8,629.1 1120.6,615.1 1126.1,613.6 1135.0,592.8 1138.4,635.8 1143.5,649.6 1148.4,658.5 1152.9,662.6 1156.9,651.9 1161.8,668.6 1167.3,680.4 1167.3,713 10,713" fill="url(#gdn)" clip-path="url(#cdn)"/>
<path d="M10.0 686.4C12.1 685.4 18.0 681.7 22.3 680.4C26.6 679.1 31.0 679.0 35.6 678.6C40.2 678.2 46.4 677.2 50.1 678.1C53.8 679.0 54.8 681.6 57.9 684.2C61.0 686.8 64.5 690.6 69.0 693.7C73.5 696.9 80.1 701.3 84.6 703.1C89.1 704.9 92.1 704.8 95.8 704.6C99.5 704.4 102.8 702.1 106.9 702.0C111.0 701.9 115.8 704.3 120.3 704.2C124.8 704.1 129.2 701.8 133.6 701.3C138.0 700.8 142.5 700.6 147.0 701.3C151.5 702.0 156.5 703.3 160.4 705.3C164.3 707.3 167.4 712.2 170.4 713.1C173.4 714.0 174.3 712.2 178.2 710.9C182.1 709.6 189.4 708.3 193.8 705.3C198.2 702.3 200.1 699.2 204.9 693.1C209.7 687.0 217.9 675.5 222.7 668.6C227.5 661.7 230.6 656.0 233.9 651.9C237.2 647.8 238.7 646.0 242.8 644.1C246.9 642.2 254.3 640.5 258.4 640.7C262.5 640.9 263.2 642.6 267.3 645.2C271.4 647.8 279.1 653.7 282.9 656.3C286.7 658.9 286.2 659.0 290.0 660.8C293.8 662.6 299.7 666.3 305.6 667.0C311.5 667.7 319.7 666.8 325.6 664.8C331.5 662.8 336.4 657.9 341.2 655.2C346.0 652.5 349.8 650.9 354.6 648.5C359.4 646.1 365.0 642.2 370.2 640.7C375.4 639.2 381.4 639.2 385.8 639.6C390.2 640.0 392.8 641.0 396.9 643.4C401.0 645.8 405.9 650.5 410.3 654.1C414.8 657.7 419.5 662.7 423.6 665.2C427.7 667.7 430.3 669.6 434.8 669.2C439.3 668.8 445.2 665.5 450.4 663.0C455.6 660.5 460.4 657.7 466.0 654.1C471.6 650.5 478.6 642.9 483.8 641.2C489.0 639.5 492.7 642.0 497.1 644.1C501.6 646.2 506.0 651.1 510.5 654.1C515.0 657.1 519.1 659.5 523.9 661.9C528.7 664.3 534.9 667.9 539.4 668.6C543.9 669.3 546.1 668.2 550.6 666.3C555.1 664.4 561.4 659.1 566.2 657.4C571.0 655.7 575.7 656.3 579.5 656.3C583.3 656.3 584.4 657.8 588.9 657.4C593.4 657.0 601.0 654.1 606.7 653.6C612.5 653.1 618.2 656.2 623.4 654.1C628.6 652.0 632.5 645.8 637.9 640.7C643.3 635.6 651.2 628.0 655.7 623.4C660.2 618.8 661.6 616.0 664.6 612.9C667.6 609.8 670.1 607.8 673.5 604.6C676.9 601.4 681.7 595.6 684.7 593.5C687.7 591.4 688.6 591.7 691.4 591.7C694.2 591.7 698.4 592.4 701.4 593.5C704.4 594.6 706.1 596.9 709.2 598.4C712.4 599.9 716.6 600.5 720.3 602.4C724.0 604.2 727.3 607.0 731.4 609.5C735.5 612.0 740.7 615.8 744.8 617.3C748.9 618.8 752.2 617.6 755.9 618.5C759.6 619.4 763.0 620.8 767.1 622.5C771.2 624.2 776.0 626.6 780.4 628.5C784.8 630.4 789.7 632.7 793.8 634.0C797.9 635.3 801.2 635.4 804.9 636.3C808.6 637.2 811.6 639.5 816.1 639.6C820.6 639.7 827.2 638.4 831.7 636.7C836.2 635.0 838.7 631.7 842.8 629.6C846.9 627.5 852.1 625.5 856.2 624.0C860.3 622.5 863.3 621.2 867.3 620.7C871.3 620.2 876.6 620.8 880.0 621.1C883.4 621.4 884.6 622.4 887.8 622.5C891.0 622.6 894.5 622.2 899.0 621.8C903.5 621.4 908.9 620.4 914.5 620.2C920.1 620.0 926.8 621.6 932.4 620.7C938.0 619.9 943.5 616.2 948.0 615.1C952.5 614.0 955.0 614.0 959.1 614.4C963.2 614.8 968.0 615.6 972.4 617.3C976.8 619.0 981.3 622.3 985.8 624.7C990.3 627.1 994.8 627.8 999.2 631.8C1003.7 635.8 1008.0 643.9 1012.5 648.5C1017.0 653.1 1020.7 656.0 1025.9 659.7C1031.1 663.4 1039.2 667.8 1043.7 670.8C1048.2 673.8 1049.2 675.8 1052.6 677.5C1055.9 679.2 1059.3 681.7 1063.8 681.3C1068.3 680.9 1075.0 677.6 1079.4 675.2C1083.9 672.8 1086.8 669.5 1090.5 667.0C1094.2 664.5 1097.1 663.4 1101.6 660.3C1106.0 657.2 1112.8 652.1 1117.2 648.5C1121.7 644.9 1125.0 641.5 1128.3 638.5C1131.6 635.5 1134.9 632.2 1137.3 630.7C1139.7 629.2 1140.2 629.1 1142.8 629.6C1145.4 630.1 1148.8 632.0 1152.9 633.6C1157.0 635.2 1164.9 638.1 1167.3 639.0" fill="none" stroke="#fdd835" stroke-width="1.2"/>
<polyline points="10.0,663.0 11.6,686.4 16.0,673.0 22.3,680.8 30.1,697.5 33.9,689.7 39.0,697.5 43.4,689.7 47.9,688.0 52.3,696.4 61.2,706.4 66.8,709.3 75.7,717.6 79.1,717.6 84.2,723.1 89.1,704.2 93.5,696.4 96.9,698.6 102.0,674.1 106.5,678.6 114.7,710.9 120.3,713.1 123.6,696.8 128.7,698.6 133.2,695.3 141.9,722.0 145.9,719.1 151.4,722.0 155.9,712.0 159.9,717.6 164.8,733.2 169.3,735.4 173.7,697.5 178.2,697.5 182.6,677.5 192.0,683.0 200.4,631.4 209.4,631.4 219.4,627.4 223.8,635.8 227.6,628.5 237.2,639.6 241.6,641.8 246.1,664.1 251.2,657.4 255.0,665.2 259.5,655.2 263.9,656.3 268.4,673.0 272.8,680.8 277.3,675.9 281.7,680.8 287.3,665.2 291.8,668.6 298.9,661.9 304.5,673.0 308.9,657.4 313.4,656.8 317.8,651.4 323.0,652.3 326.7,647.4 331.2,635.8 335.7,634.5 340.8,647.4 344.6,633.6 350.1,632.3 354.1,650.1 358.6,637.4 363.1,608.4 368.0,636.7 372.0,638.9 377.3,649.2 380.9,651.9 385.8,643.4 390.2,656.8 395.8,665.7 413.6,698.2 418.1,696.8 427.0,665.7 430.8,666.3 439.7,618.5 444.8,628.5 448.6,627.4 453.7,610.7 462.6,646.3 467.1,640.3 472.2,640.7 476.0,632.3 480.4,660.8 484.9,661.9 490.4,675.9 493.8,677.0 500.5,670.8 503.8,669.2 507.8,670.1 512.3,667.0 521.6,671.9 525.6,664.8 530.1,669.2 538.3,666.3 543.9,648.5 548.4,647.9 557.3,632.3 562.8,644.1 571.1,661.9 575.1,664.1 580.6,665.2 584.0,679.7 588.9,668.6 593.8,651.9 597.8,661.2 602.3,638.9 606.7,639.6 612.3,656.8 615.6,640.7 621.2,634.5 625.7,634.0 633.5,598.0 639.7,598.9 643.5,598.4 647.9,595.7 651.7,606.9 656.8,596.2 660.6,577.2 665.7,573.9 669.5,582.4 675.3,578.4 679.1,581.0 684.2,574.4 688.0,615.1 693.6,610.7 702.0,606.9 705.8,641.8 711.4,628.5 714.7,630.7 722.5,614.0 727.0,615.8 731.9,615.8 737.7,608.4 742.1,627.4 747.0,611.3 751.0,610.7 755.9,618.0 760.0,630.7 764.9,640.3 768.9,640.7 773.8,669.7 778.7,663.0 782.7,648.5 791.6,645.2 796.5,609.1 800.9,640.3 806.1,633.6 813.4,630.7 818.3,618.5 823.9,617.3 827.7,636.7 831.7,627.4 837.2,620.2 842.8,630.0 846.1,638.9 850.6,608.4 855.1,602.4 860.2,602.4 864.0,609.5 868.4,621.1 873.3,628.5 878.5,632.3 882.2,625.6 886.7,629.1 891.2,634.5 896.3,632.3 899.6,605.1 904.5,621.8 909.0,619.6 913.4,617.3 918.6,609.1 923.0,604.6 927.9,612.9 931.9,619.6 936.4,611.8 940.8,605.1 945.3,600.2 950.2,606.9 953.5,635.8 959.1,629.6 963.1,620.2 968.0,628.5 972.9,634.5 976.9,653.0 981.8,655.2 985.8,630.7 990.3,640.7 994.3,646.3 1000.3,657.4 1004.1,674.1 1009.2,685.3 1013.7,681.9 1017.4,681.9 1021.9,696.8 1030.4,668.6 1035.9,673.0 1041.5,684.2 1045.5,693.1 1049.3,693.1 1053.7,673.7 1058.9,684.2 1062.7,678.6 1067.1,661.2 1074.9,659.0 1080.5,652.3 1084.9,639.6 1090.0,625.6 1093.8,641.2 1099.4,641.2 1103.4,639.6 1108.3,643.0 1112.3,639.6 1116.8,629.1 1120.6,615.1 1126.1,613.6 1135.0,592.8 1138.4,635.8 1143.5,649.6 1148.4,658.5 1152.9,662.6 1156.9,651.9 1161.8,668.6 1167.3,680.4" fill="none" stroke="#7e57c2" stroke-width="3" stroke-linejoin="round" stroke-linecap="round"/>
<circle cx="1167.5" cy="551.4" r="11.2" fill="#fff"/>
<path d="M1170.3 542.5A9.3 9.3 0 1 0 1176.4 548.6" fill="none" stroke="#9c27b0" stroke-width="1.6" stroke-linecap="round"/>
<path d="M1169.9 546.1L1163.5 551.5H1171.5L1164.4 557" fill="none" stroke="#9c27b0" stroke-width="1.8" stroke-linecap="round" stroke-linejoin="round"/>
<circle cx="1174.3" cy="544.5" r="2.5" fill="#f23645"/>
<text x="18" y="45.9" font-size="12" fill="#131722" textLength="168.8" lengthAdjust="spacingAndGlyphs">AVAX / TetherUS · 4h · BINANCE</text>
<text x="194.6" y="45.9" font-size="12" fill="#131722">O</text>
<text x="203" y="45.9" font-size="12" fill="#f23645" textLength="28.8" lengthAdjust="spacingAndGlyphs">24.73</text>
<text x="240" y="45.9" font-size="12" fill="#131722">H</text>
<text x="247.5" y="45.9" font-size="12" fill="#f23645" textLength="29.5" lengthAdjust="spacingAndGlyphs">25.19</text>
<text x="284.3" y="45.9" font-size="12" fill="#131722">L</text>
<text x="290.3" y="45.9" font-size="12" fill="#f23645" textLength="29.1" lengthAdjust="spacingAndGlyphs">24.21</text>
<text x="327" y="45.9" font-size="12" fill="#131722">C</text>
<text x="334.4" y="45.9" font-size="12" fill="#f23645" textLength="28.5" lengthAdjust="spacingAndGlyphs">24.21</text>
<text x="371.9" y="45.9" font-size="12" fill="#f23645" textLength="77.9" lengthAdjust="spacingAndGlyphs">−0.51 (−2.06%)</text>
<text x="18" y="62.7" font-size="12" fill="#131722" textLength="92.3" lengthAdjust="spacingAndGlyphs">MA Cross (20, 50)</text>
<text x="118.3" y="62.7" font-size="12" fill="#3179f5" textLength="29.1" lengthAdjust="spacingAndGlyphs">25.35</text>
<text x="155" y="62.7" font-size="12" fill="#f23645" textLength="29.7" lengthAdjust="spacingAndGlyphs">24.84</text>
<text x="17.8" y="584.2" font-size="11.5" fill="#131722" textLength="75.7" lengthAdjust="spacingAndGlyphs">RSI (14, close)</text>
<text x="102" y="584.2" font-size="11.5" fill="#7e57c2" textLength="28.3" lengthAdjust="spacingAndGlyphs">42.22</text>
<text x="138.5" y="584.2" font-size="11.5" fill="#f9cd2f" textLength="28.5" lengthAdjust="spacingAndGlyphs">57.81</text>
<g clip-path="url(#cmain)">
<text x="1313.4" y="565.9" font-size="12" fill="#131722" textLength="29" lengthAdjust="spacingAndGlyphs">15.00</text>
<text x="1313.4" y="524.9" font-size="12" fill="#131722" textLength="29" lengthAdjust="spacingAndGlyphs">16.00</text>
<text x="1313.4" y="483.9" font-size="12" fill="#131722" textLength="29" lengthAdjust="spacingAndGlyphs">17.00</text>
<text x="1313.4" y="442.9" font-size="12" fill="#131722" textLength="29" lengthAdjust="spacingAndGlyphs">18.00</text>
<text x="1313.4" y="401.9" font-size="12" fill="#131722" textLength="29" lengthAdjust="spacingAndGlyphs">19.00</text>
<text x="1313.4" y="360.9" font-size="12" fill="#131722" textLength="29" lengthAdjust="spacingAndGlyphs">20.00</text>
<text x="1313.4" y="319.9" font-size="12" fill="#131722" textLength="29" lengthAdjust="spacingAndGlyphs">21.00</text>
<text x="1313.4" y="278.9" font-size="12" fill="#131722" textLength="29" lengthAdjust="spacingAndGlyphs">22.00</text>
<text x="1313.4" y="237.9" font-size="12" fill="#131722" textLength="29" lengthAdjust="spacingAndGlyphs">23.00</text>
<text x="1313.4" y="196.9" font-size="12" fill="#131722" textLength="29" lengthAdjust="spacingAndGlyphs">24.00</text>
<text x="1313.4" y="155.9" font-size="12" fill="#131722" textLength="29" lengthAdjust="spacingAndGlyphs">25.00</text>
<text x="1313.4" y="114.9" font-size="12" fill="#131722" textLength="29" lengthAdjust="spacingAndGlyphs">26.00</text>
<text x="1313.4" y="73.9" font-size="12" fill="#131722" textLength="29" lengthAdjust="spacingAndGlyphs">27.00</text>
</g><g clip-path="url(#crsi)">
<text x="1313.4" y="586.2" font-size="12" fill="#131722" textLength="29" lengthAdjust="spacingAndGlyphs">80.00</text>
<text x="1313.4" y="638.5" font-size="12" fill="#131722" textLength="29" lengthAdjust="spacingAndGlyphs">60.00</text>
<text x="1313.4" y="690.7" font-size="12" fill="#131722" textLength="29" lengthAdjust="spacingAndGlyphs">40.00</text>
<text x="1313.4" y="743.0" font-size="12" fill="#131722" textLength="29" lengthAdjust="spacingAndGlyphs">20.00</text>
</g>
<text x="43.6" y="762.8" font-size="12" fill="#131722" text-anchor="middle">18</text>
<text x="97.7" y="762.8" font-size="12" fill="#131722" text-anchor="middle">20</text>
<text x="151.9" y="762.8" font-size="12" fill="#131722" text-anchor="middle">22</text>
<text x="206.0" y="762.8" font-size="12" fill="#131722" text-anchor="middle">24</text>
<text x="260.2" y="762.8" font-size="12" fill="#131722" text-anchor="middle">26</text>
<text x="314.3" y="762.8" font-size="12" fill="#131722" text-anchor="middle">28</text>
<text x="395.5" y="762.8" font-size="12" fill="#131722" text-anchor="middle">Jul</text>
<text x="449.7" y="762.8" font-size="12" fill="#131722" text-anchor="middle">3</text>
<text x="503.8" y="762.8" font-size="12" fill="#131722" text-anchor="middle">5</text>
<text x="557.9" y="762.8" font-size="12" fill="#131722" text-anchor="middle">7</text>
<text x="612.1" y="762.8" font-size="12" fill="#131722" text-anchor="middle">9</text>
<text x="666.2" y="762.8" font-size="12" fill="#131722" text-anchor="middle">11</text>
<text x="720.4" y="762.8" font-size="12" fill="#131722" text-anchor="middle">13</text>
<text x="774.5" y="762.8" font-size="12" fill="#131722" text-anchor="middle">15</text>
<text x="828.6" y="762.8" font-size="12" fill="#131722" text-anchor="middle">17</text>
<text x="882.8" y="762.8" font-size="12" fill="#131722" text-anchor="middle">19</text>
<text x="936.9" y="762.8" font-size="12" fill="#131722" text-anchor="middle">21</text>
<text x="991.1" y="762.8" font-size="12" fill="#131722" text-anchor="middle">23</text>
<text x="1045.2" y="762.8" font-size="12" fill="#131722" text-anchor="middle">25</text>
<text x="1099.3" y="762.8" font-size="12" fill="#131722" text-anchor="middle">27</text>
<text x="1153.5" y="762.8" font-size="12" fill="#131722" text-anchor="middle">29</text>
<text x="1234.7" y="762.8" font-size="12" fill="#131722" text-anchor="middle">Aug</text>
<text x="1288.8" y="762.8" font-size="12" fill="#131722" text-anchor="middle">3</text>
<path d="M1198 129H1304V146H1198Q1196 146 1196 144V131Q1196 129 1198 129Z" fill="#3179f5"/>
<path d="M1305 129H1345Q1348 129 1348 132V143Q1348 146 1345 146H1305Z" fill="#3179f5"/>
<text x="1200.8" y="141.8" font-size="12" fill="#fff" stroke="#fff" stroke-width="0.3" textLength="99.2" lengthAdjust="spacingAndGlyphs">MA Cross:Short MA</text>
<text x="1313.4" y="141.8" font-size="12" fill="#fff" stroke="#fff" stroke-width="0.3" textLength="29.2" lengthAdjust="spacingAndGlyphs">25.35</text>
<path d="M1202 150H1304V166.6H1202Q1200 166.6 1200 164.6V152Q1200 150 1202 150Z" fill="#f23645"/>
<path d="M1305 150H1345Q1348 150 1348 153V163.6Q1348 166.6 1345 166.6H1305Z" fill="#f23645"/>
<text x="1203.5" y="162.6" font-size="12" fill="#fff" stroke="#fff" stroke-width="0.3" textLength="96.5" lengthAdjust="spacingAndGlyphs">MA Cross:Long MA</text>
<text x="1313.4" y="162.6" font-size="12" fill="#fff" stroke="#fff" stroke-width="0.3" textLength="29.2" lengthAdjust="spacingAndGlyphs">24.84</text>
<path d="M1244 176H1304V192.6H1244Q1242 192.6 1242 190.6V178Q1242 176 1244 176Z" fill="#ef5350"/>
<path d="M1305 176H1359Q1362 176 1362 179V217.7Q1362 220.7 1359 220.7H1305Z" fill="#ef5350"/>
<text x="1246.5" y="188.6" font-size="12" fill="#fff" stroke="#fff" stroke-width="0.3" textLength="52.3" lengthAdjust="spacingAndGlyphs">AVAXUSDT</text>
<text x="1313.4" y="188.6" font-size="12" fill="#fff" stroke="#fff" stroke-width="0.3" textLength="27.6" lengthAdjust="spacingAndGlyphs">24.21</text>
<text x="1313.4" y="202.7" font-size="12" fill="#fff" stroke="#fff" stroke-width="0.3" textLength="42.1" lengthAdjust="spacingAndGlyphs">+22.46%</text>
<text x="1313.4" y="216.6" font-size="12" fill="#fff" stroke="#fff" stroke-width="0.3" fill-opacity="0.9" textLength="28.6" lengthAdjust="spacingAndGlyphs">27:03</text>
<path d="M1305 542.8H1345Q1348 542.8 1348 545.8V555.5Q1348 558.5 1345 558.5H1305Z" fill="#0000ff"/>
<text x="1313.4" y="554.9" font-size="12" fill="#fff" stroke="#fff" stroke-width="0.3" textLength="29" lengthAdjust="spacingAndGlyphs">15.27</text>
<path d="M1227 631H1304V647.5H1227Q1225 647.5 1225 645.5V633Q1225 631 1227 631Z" fill="#fdd835"/>
<path d="M1305 631H1345Q1348 631 1348 634V644.5Q1348 647.5 1345 647.5H1305Z" fill="#fdd835"/>
<text x="1229.5" y="643.5" font-size="12" fill="#131722" stroke="#131722" stroke-width="0.3" textLength="69.7" lengthAdjust="spacingAndGlyphs">RSI-based MA</text>
<text x="1313.4" y="643.5" font-size="12" fill="#131722" stroke="#131722" stroke-width="0.3" textLength="29" lengthAdjust="spacingAndGlyphs">57.81</text>
<path d="M1281.3 672.3H1304V688.5H1281.3Q1279.3 688.5 1279.3 686.5V674.3Q1279.3 672.3 1281.3 672.3Z" fill="#7e57c2"/>
<path d="M1305 672.3H1345Q1348 672.3 1348 675.3V685.5Q1348 688.5 1345 688.5H1305Z" fill="#7e57c2"/>
<text x="1284.4" y="684.7" font-size="12" fill="#fff" stroke="#fff" stroke-width="0.3" textLength="14.8" lengthAdjust="spacingAndGlyphs">RSI</text>
<text x="1313.4" y="684.7" font-size="12" fill="#fff" stroke="#fff" stroke-width="0.3" textLength="29" lengthAdjust="spacingAndGlyphs">42.22</text>
<path d="M1305 60.6H1346Q1348 60.6 1348 62.6H1305Z" fill="#0000ff"/>
<rect x="1305" y="28" width="58.5" height="32.4" fill="#fff"/>
<rect x="1308.3" y="31.3" width="53" height="25.5" rx="5" fill="#fff" stroke="#ececec" stroke-width="1"/>
<text x="1317" y="48.6" font-size="12" fill="#131722" textLength="28" lengthAdjust="spacingAndGlyphs">USDT</text>
<path d="M10 785.2H17.8V794.6H13.4V788.6H10Z" fill="#131722"/>
<circle cx="21" cy="786.9" r="1.7" fill="#131722"/>
<path d="M24.2 785.2H29.8L26.6 794.6H21Z" fill="#131722"/>
<text x="33" y="794.6" font-size="12.8" fill="#131722" textLength="70" lengthAdjust="spacingAndGlyphs">TradingView</text>
</svg></body></html>
